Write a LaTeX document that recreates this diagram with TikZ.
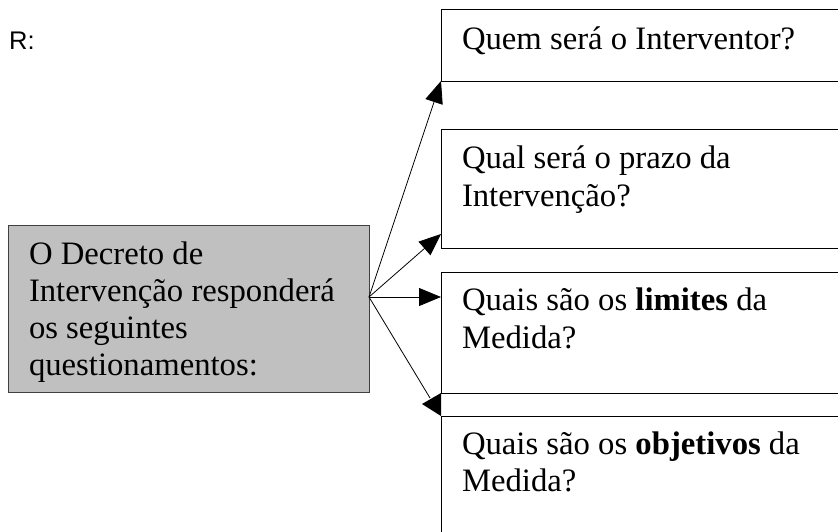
\documentclass[tikz,border=0pt]{standalone}
\usepackage{fontspec}
\setmainfont{Liberation Serif}
\newfontfamily\rsans{Liberation Sans}
\usetikzlibrary{arrows.meta,calc}
\definecolor{boxgray}{HTML}{C0C0C0}
\definecolor{boxedge}{HTML}{404040}
\begin{document}
\begin{tikzpicture}[x=1pt,y=-1pt,
  box/.style={draw=black, line width=1pt, anchor=north west, inner sep=0pt, outer sep=0pt},
  txt/.style={anchor=base west, inner sep=0pt, outer sep=0pt, font=\fontsize{32.7}{38}\selectfont},
  conn/.style={line width=0.8pt, -{Triangle[length=22pt,width=18pt]}},
  plain/.style={line width=0.8pt}]
\useasboundingbox (0,0) rectangle (838,531);
\clip (0,0) rectangle (838,531);
% boxes
\node[box, fill=boxgray, draw=boxedge, minimum width=361pt, minimum height=167pt] (main) at (8,225) {};
\node[box, minimum width=420pt, minimum height=72pt] (b1) at (441,9) {};
\node[box, minimum width=420pt, minimum height=119pt] (b2) at (441,129) {};
\node[box, minimum width=420pt, minimum height=121pt] (b3) at (441,272) {};
\node[box, minimum width=420pt, minimum height=160pt] (b4) at (441,416) {};
% texts
\node[anchor=base west, inner sep=0pt, font=\rsans\fontsize{25.5}{30}\selectfont] (r) at (9,49) {R:};
\node[txt] (m1) at (29,264) {O Decreto de};
\node[txt] (m2) at (29,301) {Intervenção responderá};
\node[txt] (m3) at (29,338) {os seguintes};
\node[txt] (m4) at (29,375) {questionamentos:};
\node[txt] (q1) at (462,49) {Quem será o Interventor?};
\node[txt] (q2a) at (462,168) {Qual será o prazo da};
\node[txt] (q2b) at (462,206) {Intervenção?};
\node[txt] (q3a) at (462,310) {Quais são os \textbf{limites} da};
\node[txt] (q3b) at (462,348) {Medida?};
\node[txt] (q4a) at (462,454) {Quais são os \textbf{objetivos} da};
\node[txt] (q4b) at (462,491) {Medida?};
% connectors
\coordinate (src) at ($(main.north east)+(0,72)$);
\coordinate (t2) at ($(b2.south west)+(0,-14)$);
\coordinate (t3) at ($(b3.north west)+(0,25)$);
\coordinate (t4) at (430,398);
\coordinate (tip4) at (422,404);
\draw[conn] (src) -- (b1.south west);
\draw[conn] (src) -- (t2);
\draw[conn] (src) -- (t3);
\draw[plain] (src) -- (t4);
\fill (tip4) -- (b3.south west) -- (b4.north west) -- cycle;
\end{tikzpicture}
\end{document}
